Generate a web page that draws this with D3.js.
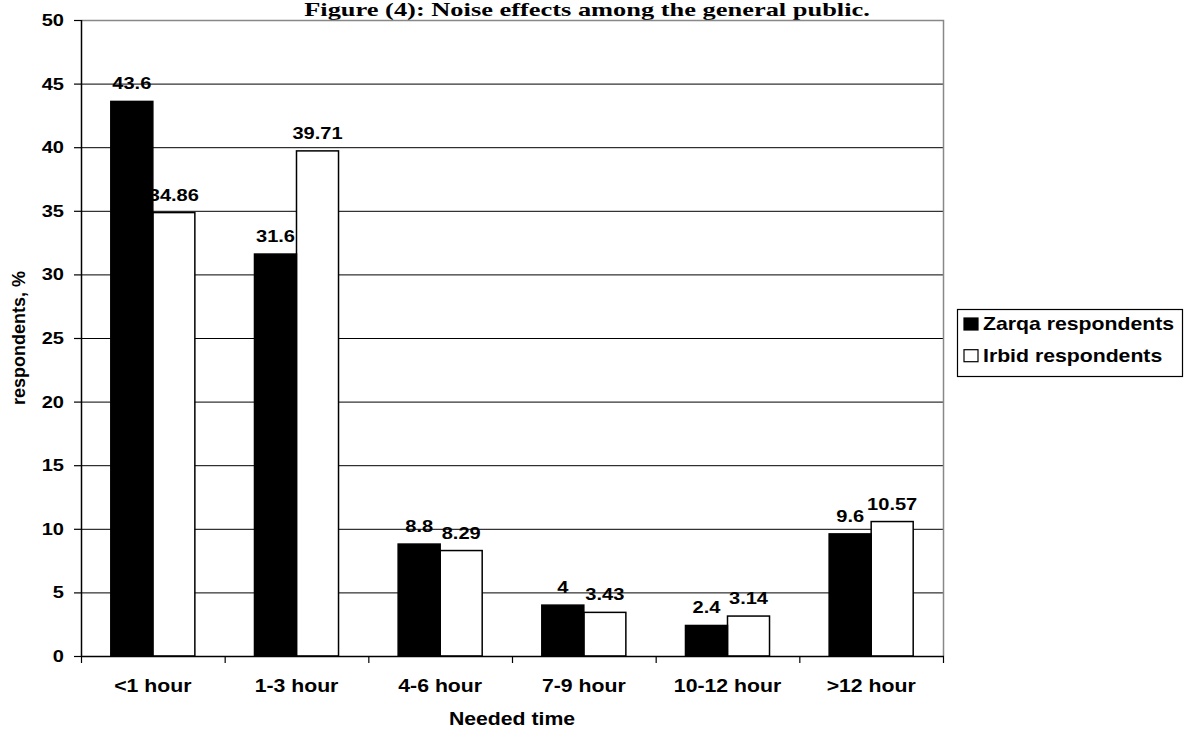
<!DOCTYPE html>
<html>
<head>
<meta charset="utf-8">
<script src="https://cdn.jsdelivr.net/npm/d3@7"></script>
<style>
  html, body { margin: 0; padding: 0; background: #fff; }
  svg { display: block; }
  text { font-family: "Liberation Sans", Arial, sans-serif; font-weight: bold; fill: #000; }
</style>
</head>
<body>
<svg id="chart" width="1187" height="731"></svg>
<script>
const titleText = "Figure (4): Noise effects among the general public.";
const categories = ["<1 hour", "1-3 hour", "4-6 hour", "7-9 hour", "10-12 hour", ">12 hour"];
const seriesNames = ["Zarqa respondents", "Irbid respondents"];
const zarqa = [43.6, 31.6, 8.8, 4, 2.4, 9.6];
const irbid = [34.86, 39.71, 8.29, 3.43, 3.14, 10.57];
const zarqaLabels = ["43.6", "31.6", "8.8", "4", "2.4", "9.6"];
const irbidLabels = ["34.86", "39.71", "8.29", "3.43", "3.14", "10.57"];
const yTicks = [0, 5, 10, 15, 20, 25, 30, 35, 40, 45, 50];
const xTitle = "Needed time";
const yTitle = "respondents, %";

const SX = 1.18; // horizontal stretch of the reference's glyphs
const svg = d3.select("#chart");
const L = 81, R = 943, T = 20, B = 656;

const y = d3.scaleLinear().domain([0, 50]).range([B, T]);
const x0 = d3.scaleBand().domain(categories).range([L, R]).paddingInner(0.415).paddingOuter(0.2075);
const x1 = d3.scaleBand().domain([0, 1]).range([0, x0.bandwidth()]);
const xIdx = d3.scaleLinear().domain([0, categories.length]).range([L, R]);
const fills = ["#000", "#fff"];

function addText(parent, x, y, str, size, anchor) {
  const g = parent.append("g").attr("transform", `translate(${x},${y}) scale(${SX},1)`);
  return g.append("text").attr("text-anchor", anchor || "middle").style("font-size", size + "px").text(str);
}

// Title
svg.append("g").attr("transform", `translate(587,16) scale(1.39,1)`)
  .append("text").attr("text-anchor", "middle")
  .style("font-family", "'Liberation Serif', 'Times New Roman', serif")
  .style("font-size", "19px").text(titleText);

// Gridlines
svg.append("g").selectAll("line").data(yTicks.filter(d => d > 0 && d < 50)).join("line")
  .attr("x1", L).attr("x2", R).attr("y1", d => y(d) + 0.5).attr("y2", d => y(d) + 0.5)
  .attr("stroke", "#000").attr("stroke-width", 1);

// Plot border (top & right) in gray
svg.append("path").attr("d", `M${L},${y(50) + 0.5}H${R + 0.5}V${B}`)
  .attr("fill", "none").attr("stroke", "#888").attr("stroke-width", 1.5);

// Bars
const data = categories.map((c, i) => ({ c, vals: [zarqa[i], irbid[i]], labs: [zarqaLabels[i], irbidLabels[i]] }));
const groups = svg.append("g").selectAll("g").data(data).join("g")
  .attr("transform", d => `translate(${x0(d.c)},0)`);
[1, 0].forEach(s => {
  groups.append("rect")
    .attr("x", x1(s)).attr("width", x1.bandwidth())
    .attr("y", d => y(d.vals[s])).attr("height", d => y(0) - y(d.vals[s]))
    .attr("fill", fills[s]).attr("stroke", "#000").attr("stroke-width", 1.5);
});

// Value labels
data.forEach(d => {
  [0, 1].forEach(s => {
    addText(svg, x0(d.c) + x1(s) + x1.bandwidth() / 2, y(d.vals[s]) - 12, d.labs[s], 17);
  });
});

// Y axis
const yAxis = svg.append("g").attr("transform", `translate(${L},0)`)
  .call(d3.axisLeft(y).tickValues(yTicks).tickSize(7).tickPadding(10).tickFormat(d3.format("d")));
yAxis.select(".domain").remove();
yAxis.selectAll(".tick line").attr("stroke", "#000").attr("stroke-width", 1.2);
yAxis.selectAll(".tick text").each(function () {
  const t = d3.select(this);
  t.attr("x", +t.attr("x") / SX).attr("transform", `scale(${SX},1)`);
}).style("font-size", "17px").style("font-family", "'Liberation Sans', Arial, sans-serif").style("font-weight", "bold");
svg.append("line").attr("x1", L + 0.5).attr("x2", L + 0.5).attr("y1", T).attr("y2", B)
  .attr("stroke", "#000").attr("stroke-width", 1.5);

// X axis line and boundary ticks
const xAxis = svg.append("g").attr("transform", `translate(0,${B})`)
  .call(d3.axisBottom(xIdx).tickValues(d3.range(categories.length + 1)).tickSize(7).tickFormat(""));
xAxis.select(".domain").remove();
xAxis.selectAll(".tick line").attr("stroke", "#000").attr("stroke-width", 1.2);
svg.append("line").attr("x1", L).attr("x2", R + 1).attr("y1", B + 0.5).attr("y2", B + 0.5)
  .attr("stroke", "#000").attr("stroke-width", 1.5);

// Category labels
categories.forEach(c => addText(svg, x0(c) + x0.bandwidth() / 2, 692, c, 18));

// Axis titles
addText(svg, (L + R) / 2, 725, xTitle, 18);
svg.append("text").attr("text-anchor", "middle")
  .attr("transform", `translate(25,${(T + B) / 2}) rotate(-90)`)
  .style("font-size", "18px").text(yTitle);

// Legend
const lg = svg.append("g");
lg.append("rect").attr("x", 957.5).attr("y", 309.5).attr("width", 225).attr("height", 67)
  .attr("fill", "#fff").attr("stroke", "#000").attr("stroke-width", 1.2);
seriesNames.forEach((n, i) => {
  const yy = 330 + i * 31.7;
  lg.append("rect").attr("x", 964).attr("y", yy - 12).attr("width", 14).attr("height", 12)
    .attr("fill", fills[i]).attr("stroke", "#000").attr("stroke-width", 1.2);
  addText(lg, 983, yy, n, 18, "start");
});
</script>
</body>
</html>
